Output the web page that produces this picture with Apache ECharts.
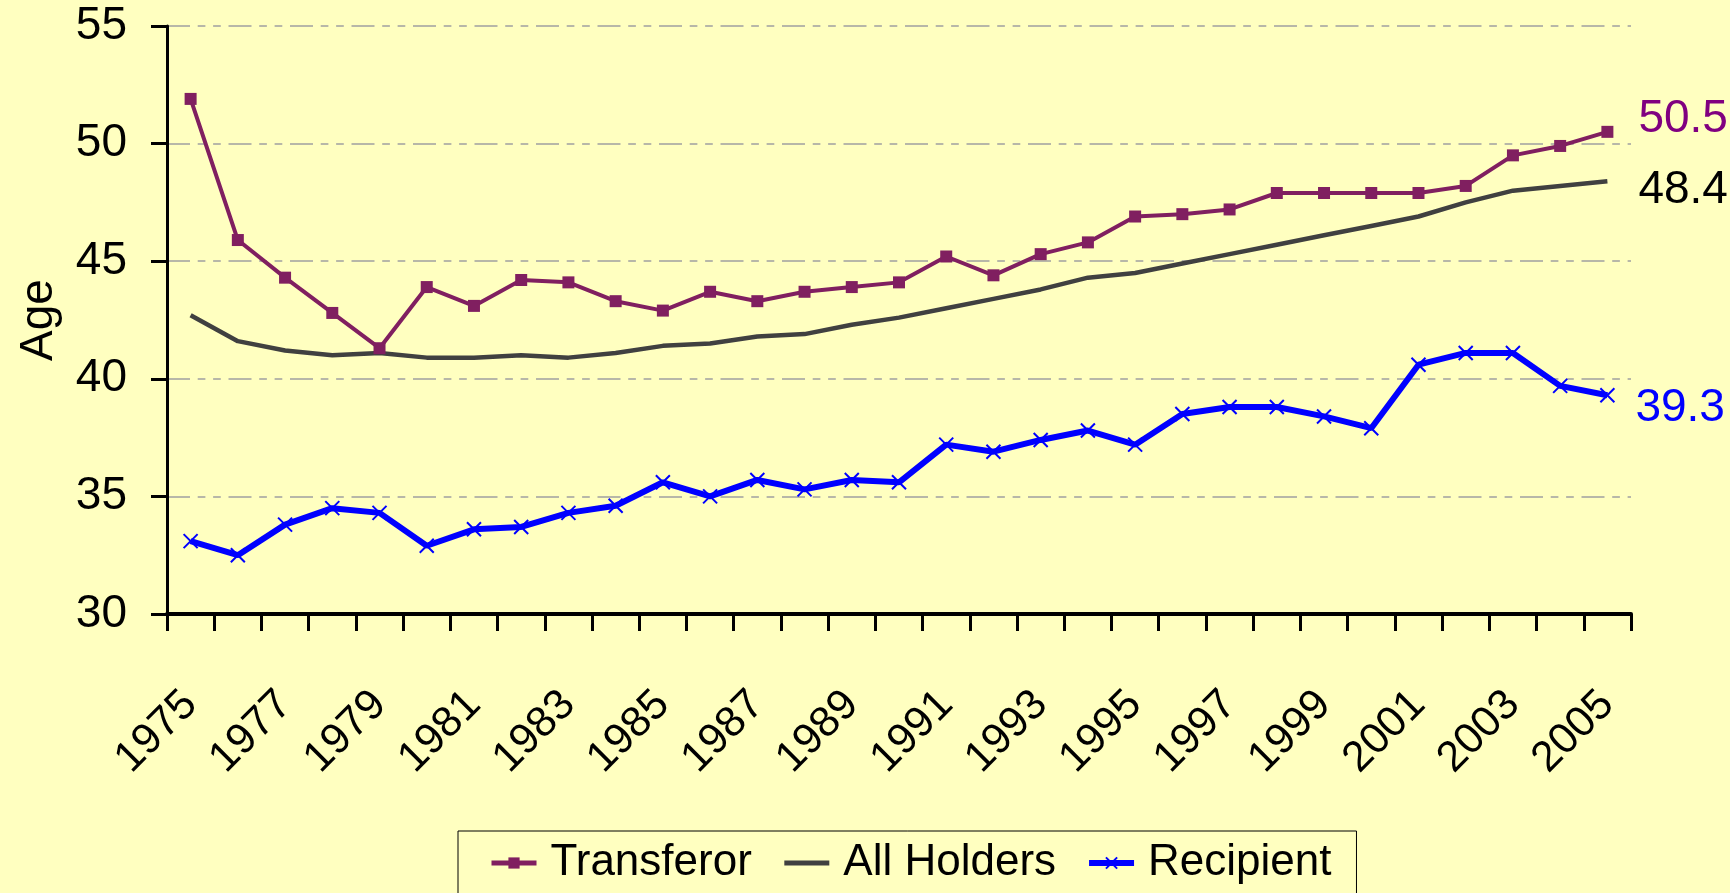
<!DOCTYPE html>
<html>
<head>
<meta charset="utf-8">
<script src="https://cdn.jsdelivr.net/npm/echarts@6/dist/echarts.min.js"></script>
<style>
  html, body { margin: 0; padding: 0; background: #FFFFC0; }
  #chart { width: 1730px; height: 893px; }
</style>
</head>
<body>
<div id="chart"></div>
<script>
// years on the category axis
var years = [];
for (var y = 1975; y <= 2005; y++) years.push(String(y));

// average age of transferors (square markers)
var transferor = [51.9, 45.9, 44.3, 42.8, 41.3, 43.9, 43.1, 44.2, 44.1, 43.3,
  42.9, 43.7, 43.3, 43.7, 43.9, 44.1, 45.2, 44.4, 45.3, 45.8,
  46.9, 47.0, 47.2, 47.9, 47.9, 47.9, 47.9, 48.2, 49.5, 49.9, 50.5];
// average age of all holders (plain line)
var allHolders = [42.7, 41.6, 41.2, 41.0, 41.1, 40.9, 40.9, 41.0, 40.9, 41.1,
  41.4, 41.5, 41.8, 41.9, 42.3, 42.6, 43.0, 43.4, 43.8, 44.3,
  44.5, 44.9, 45.3, 45.7, 46.1, 46.5, 46.9, 47.5, 48.0, 48.2, 48.4];
// average age of recipients (x markers)
var recipient = [33.1, 32.5, 33.8, 34.5, 34.3, 32.9, 33.6, 33.7, 34.3, 34.6,
  35.6, 35.0, 35.7, 35.3, 35.7, 35.6, 37.2, 36.9, 37.4, 37.8,
  37.2, 38.5, 38.8, 38.8, 38.4, 37.9, 40.6, 41.1, 41.1, 39.7, 39.3];

// no narrow face installed, Liberation Sans is the closest width
var font = "'Liberation Sans', Arial, sans-serif";
var chart = echarts.init(document.getElementById('chart'));

var option = {
  backgroundColor: '#FFFFC0',
  animation: false,
  textStyle: { fontFamily: font },
  grid: { left: 167, top: 26, width: 1464, height: 588 },
  legend: {
    left: 458,
    top: 831,
    padding: [10, 25, 30, 31],
    itemGap: 30,
    itemWidth: 45,
    itemHeight: 14,
    borderColor: '#000',
    borderWidth: 1,
    textStyle: { fontFamily: font, fontSize: 44, color: '#000', padding: [0, 0, 0, 9] },
    data: [
      { name: 'Transferor', lineStyle: { width: 5 } },
      { name: 'All Holders', lineStyle: { width: 5 }, itemStyle: { color: 'rgba(0,0,0,0)', borderWidth: 0 } },
      { name: 'Recipient', lineStyle: { width: 6 } }
    ]
  },
  xAxis: {
    type: 'category',
    data: years,
    boundaryGap: true,
    axisLine: { lineStyle: { color: '#000', width: 4 } },
    axisTick: { show: true, interval: 0, length: 17, lineStyle: { color: '#000', width: 3 } },
    axisLabel: {
      interval: 1,
      rotate: 45,
      margin: 84,
      fontFamily: font,
      fontSize: 43,
      color: '#000'
    },
    splitLine: { show: false }
  },
  yAxis: {
    type: 'value',
    min: 30,
    max: 55,
    interval: 5,
    name: 'Age',
    nameLocation: 'middle',
    nameGap: 105,
    nameTextStyle: { fontFamily: font, fontSize: 46, color: '#000' },
    axisLine: { show: true, lineStyle: { color: '#000', width: 3 } },
    axisTick: { show: true, length: 16, lineStyle: { color: '#000', width: 3 } },
    axisLabel: { margin: 40, fontFamily: font, fontSize: 46, color: '#000' },
    splitLine: {
      show: true,
      lineStyle: { color: '#A0A0A0', width: 1.5, type: [23, 7.7, 7.7, 7.7, 7.7, 7.7] }
    }
  },
  series: [
    {
      name: 'Transferor',
      type: 'line',
      data: transferor,
      symbol: 'rect',
      symbolSize: 12,
      itemStyle: { color: '#801F60' },
      lineStyle: { color: '#801F60', width: 4 },
      endLabel: {
        show: true,
        distance: 31,
        offset: [0, -13],
        color: '#800080',
        fontFamily: font,
        fontSize: 46
      },
      emphasis: { disabled: true },
      z: 3
    },
    {
      name: 'All Holders',
      type: 'line',
      data: allHolders,
      symbol: 'none',
      itemStyle: { color: '#404040' },
      lineStyle: { color: '#404040', width: 4.5 },
      endLabel: {
        show: true,
        distance: 31,
        offset: [0, 9],
        color: '#000',
        fontFamily: font,
        fontSize: 46
      },
      emphasis: { disabled: true },
      z: 2
    },
    {
      name: 'Recipient',
      type: 'line',
      data: recipient,
      symbol: 'path://M0,0L10,10M0,10L10,0',
      symbolSize: 14,
      itemStyle: { color: '#0000FF', borderColor: '#0000FF', borderWidth: 2 },
      lineStyle: { color: '#0000FF', width: 6 },
      endLabel: {
        show: true,
        distance: 28,
        offset: [0, 13],
        color: '#0000FF',
        fontFamily: font,
        fontSize: 46
      },
      emphasis: { disabled: true },
      z: 4
    }
  ]
};

chart.setOption(option);
</script>
</body>
</html>
